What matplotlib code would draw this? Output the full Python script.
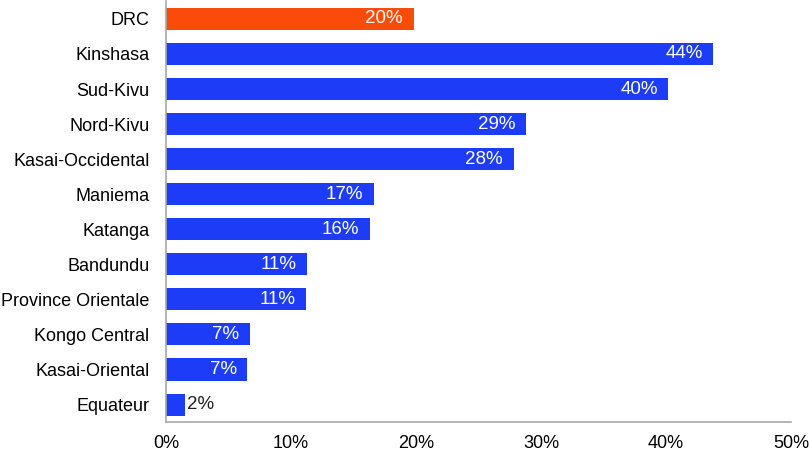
import numpy as np
import matplotlib.pyplot as plt

plt.rcParams['font.family'] = ['Liberation Sans', 'DejaVu Sans']

regions = ['DRC', 'Kinshasa', 'Sud-Kivu', 'Nord-Kivu', 'Kasai-Occidental', 'Maniema',
           'Katanga', 'Bandundu', 'Province Orientale', 'Kongo Central',
           'Kasai-Oriental', 'Equateur']
values = [19.8, 43.8, 40.2, 28.8, 27.8, 16.6, 16.3, 11.3, 11.2, 6.7, 6.5, 1.5]
labels = ['20%', '44%', '40%', '29%', '28%', '17%', '16%', '11%', '11%', '7%', '7%', '2%']

blue = '#1c3cf8'
orange = '#fa4b0a'
colors = [orange] + [blue] * (len(regions) - 1)

fig = plt.figure(figsize=(8.1, 4.5), dpi=100)
ax = fig.add_axes([0.205, 0.062, 0.7715, 0.935])

y = np.arange(len(regions))
ax.barh(y, values, height=0.63, color=colors)
ax.set_ylim(len(regions) - 0.5, -0.5)
ax.set_xlim(0, 50)

for yi, v, lab in zip(y, values, labels):
    if v > 5:
        ax.annotate(lab, (v, yi), xytext=(-7.5, 0), textcoords='offset points',
                    ha='right', va='center', color='white', fontsize=13.5)
    else:
        ax.annotate(lab, (v, yi), xytext=(1.5, 0), textcoords='offset points',
                    ha='left', va='center', color='#222222', fontsize=13.5)

ax.set_yticks(y)
ax.set_yticklabels(regions, fontsize=13)
ax.set_xticks(np.arange(0, 51, 10))
ax.set_xticklabels([f'{t}%' for t in range(0, 51, 10)], fontsize=13)
ax.tick_params(axis='both', length=0)
ax.tick_params(axis='y', pad=12)
ax.tick_params(axis='x', pad=9)

for s in ['top', 'right']:
    ax.spines[s].set_visible(False)
for s in ['left', 'bottom']:
    ax.spines[s].set_color('#a8a8a8')
    ax.spines[s].set_linewidth(1.2)

fig.savefig('out.png', dpi=100)
